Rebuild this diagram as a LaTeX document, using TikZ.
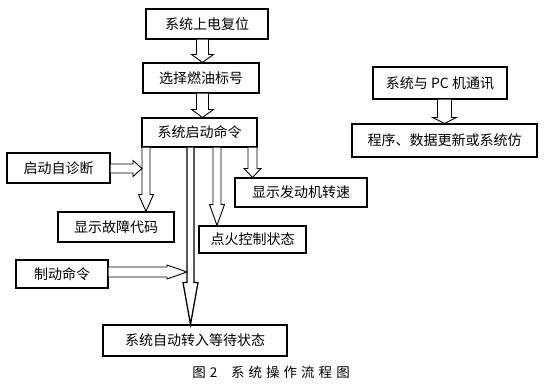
\documentclass[tikz,border=0pt]{standalone}
\usepackage{fontspec}
\newfontfamily\cjk{Noto Sans CJK SC}
\usetikzlibrary{calc}
\tikzset{
  box/.style={draw, line width=1.1pt, inner sep=0pt, font=\cjk\fontsize{14}{16}\selectfont},
  arr/.style={draw, fill=white, line width=0.9pt, line join=miter},
}
% vertical block arrow: src, dst, x, shaft half, head half, head length
\newcommand\varr[7][]{%
  \draw[arr,#1] let \p1=(#2.south), \p2=(#3.north) in
    (#4pt-#5pt,\y1) -- (#4pt-#5pt,\y2+#7pt) -- (#4pt-#6pt,\y2+#7pt) -- (#4pt,\y2)
    -- (#4pt+#6pt,\y2+#7pt) -- (#4pt+#5pt,\y2+#7pt) -- (#4pt+#5pt,\y1);}
% horizontal block arrow: src, tip coordinate, shaft half, head half, head length
\newcommand\harr[5]{%
  \draw[arr] let \p1=(#1.east), \p2=(#2) in
    (\x1,\y2+#3pt) -- (\x2-#5pt,\y2+#3pt) -- (\x2-#5pt,\y2+#4pt) -- (\x2,\y2)
    -- (\x2-#5pt,\y2-#4pt) -- (\x2-#5pt,\y2-#3pt) -- (\x1,\y2-#3pt);}
\begin{document}
\begin{tikzpicture}[x=1pt,y=-1pt]
\useasboundingbox (0,0) rectangle (545,389);
\node[box, minimum width=122pt, minimum height=30pt] (n1) at (207,24) {系统上电复位};
\node[box, minimum width=116pt, minimum height=30pt] (n2) at (201,78) {选择燃油标号};
\node[box, minimum width=115pt, minimum height=29pt] (n3) at (199.5,132.5) {系统启动命令};
\node[box, minimum width=103pt, minimum height=30pt] (n4) at (58.5,168) {启动自诊断};
\node[box, minimum width=132pt, minimum height=29pt] (n5) at (301,192.5) {显示发动机转速};
\node[box, minimum width=116pt, minimum height=30pt] (n6) at (116,227) {显示故障代码};
\node[box, minimum width=107pt, minimum height=27pt] (n7) at (252.5,239.5) {点火控制状态};
\node[box, minimum width=92pt, minimum height=28pt] (n8) at (62,274) {制动命令};
\node[box, minimum width=184pt, minimum height=31pt] (n9) at (195,340.5) {系统自动转入等待状态};
\node[box, minimum width=134pt, minimum height=32pt] (n10) at (440,83) {系统与 PC 机通讯};
\node[box, minimum width=185pt, minimum height=33pt] (n11) at (444.5,140.5) {程序、数据更新或系统仿};
\node[font=\cjk\fontsize{13.5}{15}\selectfont] (cap) at (271,372)
  {图\hspace{4pt}2\hspace{14pt}系\hspace{4pt}统\hspace{4pt}操\hspace{4pt}作\hspace{4pt}流\hspace{4pt}程\hspace{4pt}图};
\coordinate (t4) at (142,168.5);
\coordinate (t8) at (187,272);
\varr{n1}{n2}{202.5}{6}{11}{8}
\varr{n2}{n3}{202.5}{6}{11}{8}
\varr{n3}{n6}{146}{4}{7.5}{17}
\varr[line width=1.3pt]{n3}{n9}{190.5}{3.5}{7.5}{42}
\varr{n3}{n7}{217}{4}{7.5}{21}
\varr{n3}{n5}{252.5}{4.5}{8.5}{9}
\varr{n10}{n11}{444.5}{7}{12}{6}
\harr{n4}{t4}{4.5}{8}{9}
\harr{n8}{t8}{5}{7}{20}
\end{tikzpicture}
\end{document}
